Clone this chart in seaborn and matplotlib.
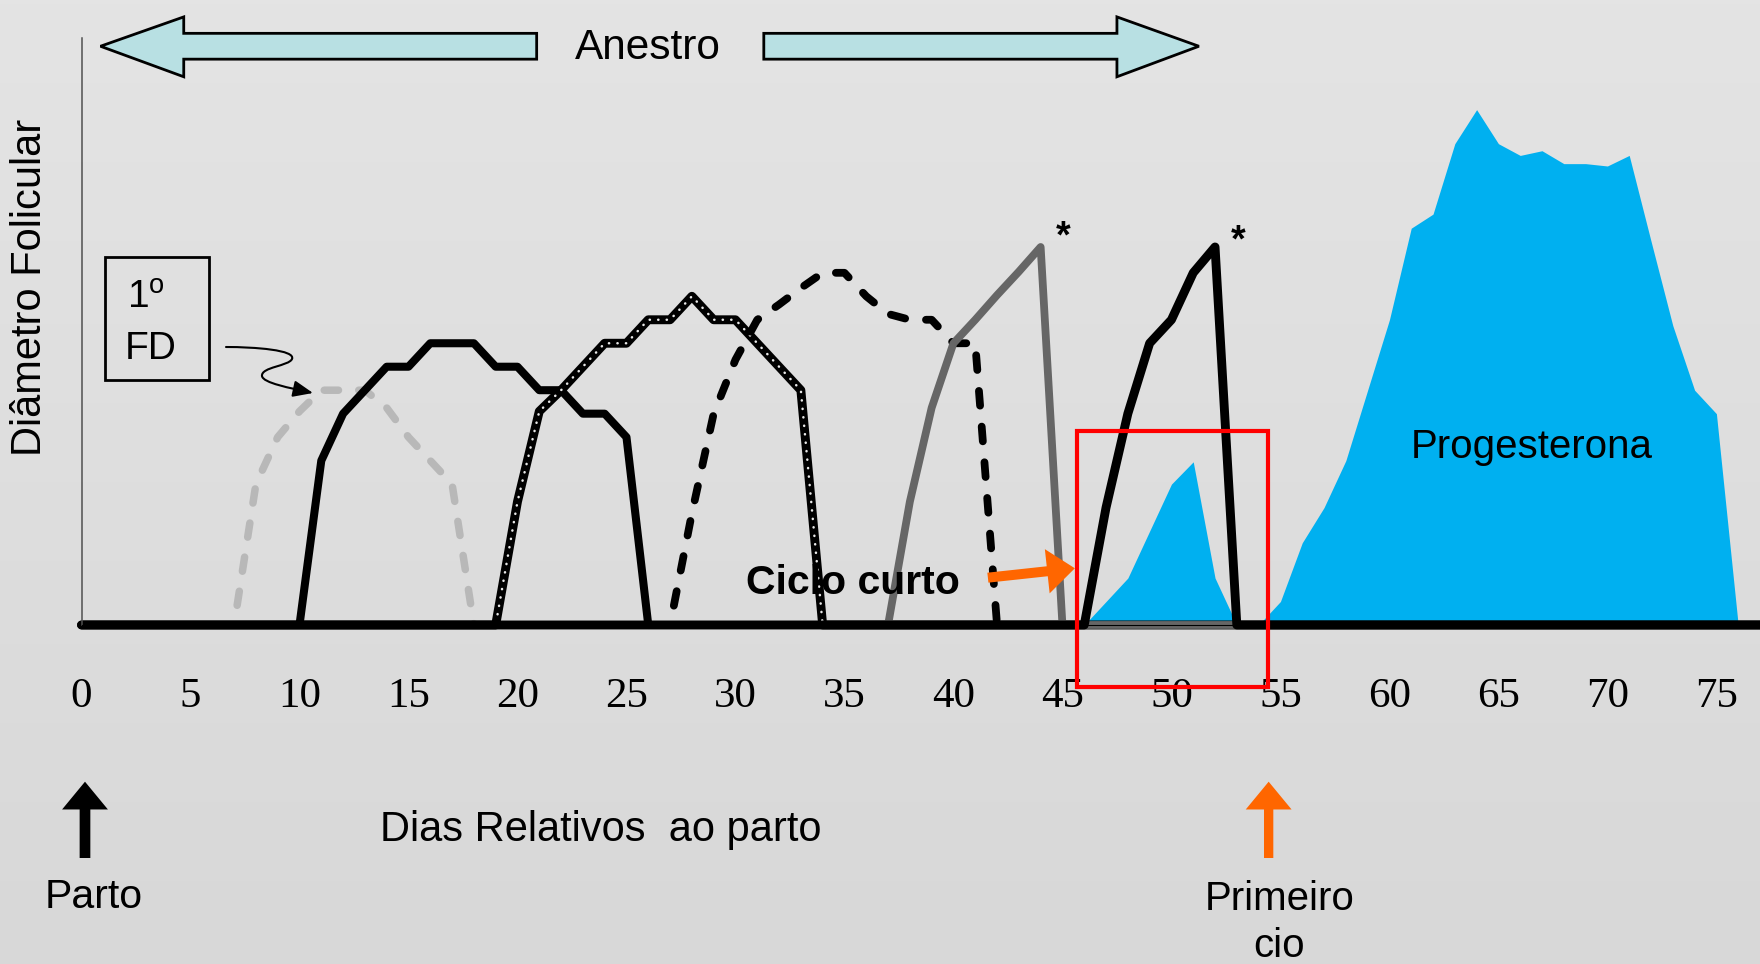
import numpy as np
import pandas as pd
import matplotlib
matplotlib.use("Agg")
import matplotlib.pyplot as plt
import seaborn as sns
from matplotlib.patches import Polygon, Rectangle, FancyArrowPatch
from matplotlib.path import Path
from matplotlib.colors import LinearSegmentedColormap

# ---------------- data ----------------
DAY_MAX = 77
x_ticks = list(range(0, 80, 5))

fd1_days = list(range(7, 19))
fd1_vals = [0, 1.2, 1.6, 1.82, 2.0, 2.0, 2.0, 1.85, 1.6, 1.4, 1.2, 0]
fd2_days = list(range(10, 27))
fd2_vals = [0, 1.4, 1.8, 2.0, 2.2, 2.2, 2.4, 2.4, 2.4, 2.2, 2.2, 2.0, 2.0, 1.8, 1.8, 1.6, 0]
fd3_days = list(range(19, 35))
fd3_vals = [0, 1.05, 1.82, 2.0, 2.2, 2.4, 2.4, 2.6, 2.6, 2.8, 2.6, 2.6, 2.4, 2.2, 2.0, 0]
fd4_days = list(range(27, 43))
fd4_vals = [0, 0.95, 1.8, 2.26, 2.6, 2.73, 2.87, 3.0, 3.0, 2.8, 2.65, 2.6, 2.6, 2.4, 2.4, 0]
fd5_days = list(range(37, 46))
fd5_vals = [0, 1.05, 1.85, 2.4, 2.6, 2.81, 3.01, 3.22, 0]
fd6_days = list(range(46, 54))
fd6_vals = [0, 1.0, 1.8, 2.4, 2.6, 3.0, 3.22, 0]
p4_days = list(range(46, 77))
p4_vals = [0, 0.2, 0.4, 0.8, 1.2, 1.39, 0.4, 0, 0, 0.2, 0.7, 1.0, 1.4, 2.0, 2.6,
           3.38, 3.5, 4.1, 4.39, 4.1, 4.0, 4.04, 3.93, 3.93, 3.91, 4.0, 3.27,
           2.55, 2.0, 1.8, 0]

all_days = np.arange(0, DAY_MAX + 1)


def full_series(days, vals):
    s = pd.Series(0.0, index=all_days)
    s.loc[days] = vals
    return pd.DataFrame({"dia": all_days, "diam": s.values})


# ---------------- style ----------------
sns.set_style("white")
plt.rcParams["font.family"] = ["Liberation Sans", "DejaVu Sans"]
plt.rcParams["text.color"] = "black"
plt.rcParams["axes.labelcolor"] = "black"
plt.rcParams["xtick.color"] = "black"
plt.rcParams["ytick.color"] = "black"

fig = plt.figure(figsize=(17.6, 9.64), dpi=100)
ax = fig.add_axes([0, 0, 1, 1])
XL = (-3.739, 77.0)
YL = (-2.888, 5.324)
ax.set_xlim(*XL)
ax.set_ylim(*YL)

# background gradient
bg = LinearSegmentedColormap.from_list("bg", ["#E4E4E4", "#D8D8D8"])
ax.imshow(np.linspace(0, 1, 256).reshape(-1, 1), cmap=bg, aspect="auto",
          extent=[XL[0], XL[1], YL[0], YL[1]], origin="upper", zorder=0)

# progesterone area
p4 = full_series(p4_days, p4_vals)
ax.fill_between(p4["dia"], 0, p4["diam"], color="#00B0F0", lw=0, zorder=1)

dash = (0, (1.9, 2.7))
common = dict(ax=ax, legend=False, errorbar=None, sort=True)

d = full_series(fd1_days, fd1_vals)
sns.lineplot(data=d, x="dia", y="diam", color="#B8B8B8", lw=5.4,
             linestyle=dash, dash_capstyle="round", zorder=2, **common)
d = full_series(fd2_days, fd2_vals)
sns.lineplot(data=d, x="dia", y="diam", color="black", lw=5.8, zorder=2, **common)
d = full_series(fd3_days, fd3_vals)
sns.lineplot(data=d, x="dia", y="diam", color="black", lw=6.4, zorder=2, **common)
sns.lineplot(data=d, x="dia", y="diam", color="#E8E8E8", lw=1.8,
             linestyle=(0, (0.1, 3.3)), dash_capstyle="round", zorder=2, **common)
d = full_series(fd4_days, fd4_vals)
sns.lineplot(data=d, x="dia", y="diam", color="black", lw=5.6,
             linestyle=dash, dash_capstyle="round", zorder=2, **common)
d = full_series(fd5_days, fd5_vals)
sns.lineplot(data=d, x="dia", y="diam", color="#666666", lw=5.6, zorder=2, **common)
d = full_series(fd6_days, fd6_vals)
sns.lineplot(data=d, x="dia", y="diam", color="black", lw=6.4, zorder=2, **common)

# ---------------- axes ----------------
for s in ["top", "right"]:
    ax.spines[s].set_visible(False)
ax.spines["left"].set_position(("data", 0))
ax.spines["left"].set_bounds(0, 5)
ax.spines["left"].set_color("#505050")
ax.spines["left"].set_linewidth(1.1)
ax.spines["bottom"].set_position(("data", 0))
ax.spines["bottom"].set_bounds(0, DAY_MAX)
ax.spines["bottom"].set_color("black")
ax.set_xticks(x_ticks)
ax.set_xticklabels([str(t) for t in x_ticks])
ax.set_yticks(range(0, 6))
ax.set_yticklabels([])
ax.tick_params(axis="x", direction="out", length=9.5, width=0.9, color="#707070",
               pad=28.5, labelsize=31, labelfontfamily="Liberation Serif",
               labelcolor="black")
ax.tick_params(axis="y", direction="out", length=10.8, width=1.0, color="#505050")
ax.set_xlabel("")
ax.set_ylabel("")

# ---------------- annotations ----------------
arrow_kw = dict(facecolor="#B8E0E3", edgecolor="black", lw=2.0, zorder=4,
                joinstyle="miter")
ax.add_patch(Polygon([(0.87, 4.93), (4.69, 5.18), (4.69, 5.04), (20.88, 5.04),
                      (20.88, 4.82), (4.69, 4.82), (4.69, 4.67)], **arrow_kw))
ax.add_patch(Polygon([(51.26, 4.93), (47.5, 5.18), (47.5, 5.04), (31.3, 5.04),
                      (31.3, 4.82), (47.5, 4.82), (47.5, 4.67)], **arrow_kw))
ax.text(26.0, 4.82, "Anestro", ha="center", va="baseline", fontsize=30.5, zorder=6)

ax.text(-1.86, 2.88, "Diâmetro Folicular", rotation=90, rotation_mode="anchor",
        ha="center", va="baseline", fontsize=30, zorder=6)

# 1º FD box
ax.add_patch(Rectangle((1.055, 2.087), 4.815, 1.05, fill=False, edgecolor="black",
                       lw=2.0, zorder=5))
ax.text(2.09, 2.70, "1$^{\\mathregular{o}}$", ha="left", va="baseline", fontsize=28, zorder=6)
ax.text(2.0, 2.27, "FD", ha="left", va="baseline", fontsize=28, zorder=6)


def px(X, Y):
    return ((X - 81.5) / 21.8, (625 - Y) / 117.4)


curl = Path([px(226, 347), px(255, 347), px(296, 350), px(292, 359),
             px(289, 366), px(261, 367), px(262, 376),
             px(263, 383), px(290, 388), px(313, 393)],
            [Path.MOVETO, Path.CURVE4, Path.CURVE4, Path.CURVE4,
             Path.CURVE4, Path.CURVE4, Path.CURVE4,
             Path.CURVE4, Path.CURVE4, Path.CURVE4])
ax.add_patch(FancyArrowPatch(path=curl, arrowstyle="-|>,head_length=0.6,head_width=0.25",
                             mutation_scale=20, lw=1.5, color="black", zorder=5))

# short cycle
ax.add_patch(Rectangle((45.65, -0.53), 8.8, 2.185, fill=False, edgecolor="#FF0000",
                       lw=3.0, zorder=5))
ax.text(35.37, 0.264, "Ciclo curto", ha="center", va="baseline", fontsize=29.5,
        fontweight="bold", zorder=6)
ax.add_patch(FancyArrowPatch((41.58, 0.403), (45.57, 0.483),
                             arrowstyle="simple,head_length=20,head_width=32,tail_width=7.2",
                             mutation_scale=1, shrinkA=0, shrinkB=0, lw=0,
                             color="#FF6600", zorder=6))

ax.text(45.01, 3.22, "*", ha="center", va="baseline", fontsize=27, fontweight="bold", zorder=6)
ax.text(53.04, 3.18, "*", ha="center", va="baseline", fontsize=27, fontweight="bold", zorder=6)
ax.text(66.55, 1.426, "Progesterona", ha="center", va="baseline", fontsize=29, zorder=6)

ax.text(23.8, -1.837, "Dias Relativos  ao parto", ha="center", va="baseline",
        fontsize=30, zorder=6)

ax.add_patch(FancyArrowPatch((0.16, -1.985), (0.16, -1.335),
                             arrowstyle="simple,head_length=20,head_width=33,tail_width=7.7",
                             mutation_scale=1, shrinkA=0, shrinkB=0, lw=0,
                             color="black", zorder=6))
ax.text(0.57, -2.41, "Parto", ha="center", va="baseline", fontsize=29.5, zorder=6)

ax.add_patch(FancyArrowPatch((54.46, -1.985), (54.46, -1.335),
                             arrowstyle="simple,head_length=20,head_width=33,tail_width=6.7",
                             mutation_scale=1, shrinkA=0, shrinkB=0, lw=0,
                             color="#FF6600", zorder=6))
ax.text(54.95, -2.43, "Primeiro", ha="center", va="baseline", fontsize=29, zorder=6)
ax.text(54.95, -2.83, "cio", ha="center", va="baseline", fontsize=29, zorder=6)

fig.savefig("out.png", dpi=100)
